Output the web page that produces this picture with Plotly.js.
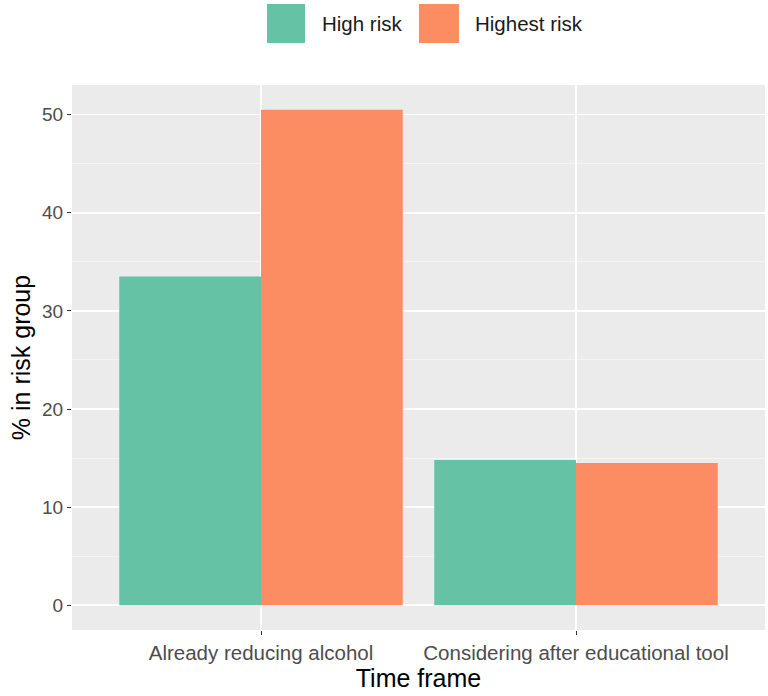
<!DOCTYPE html>
<html>
<head>
<meta charset="utf-8">
<script src="https://cdn.plot.ly/plotly-3.0.1.min.js"></script>
<style>
  html, body { margin: 0; padding: 0; background: #fff; }
  #chart { width: 768px; height: 696px; }
</style>
</head>
<body>
<div id="chart"></div>
<script>
// --- Data ---
const categories = ['Already reducing alcohol', 'Considering after educational tool'];
const seriesNames = ['High risk', 'Highest risk'];
const highRisk = [33.5, 14.8];
const highestRisk = [50.5, 14.5];
const seriesColors = ['#66C2A5', '#FC8D62'];
const yTicks = [0, 10, 20, 30, 40, 50];

const FONT = 'Liberation Sans, Arial, sans-serif';

const traces = [highRisk, highestRisk].map((vals, i) => ({
  type: 'bar',
  name: seriesNames[i],
  x: categories,
  y: vals,
  marker: { color: seriesColors[i], line: { width: 0 } },
  hoverinfo: 'x+y+name',
}));

// --- ggplot-like legend on top (big square keys), paper = plot area ---
const keyX = [[0.2814, 0.3362], [0.5007, 0.5584]];
const textX = [0.3579, 0.5786];
const legendShapes = seriesColors.map((c, i) => ({
  type: 'rect', xref: 'paper', yref: 'paper',
  x0: keyX[i][0], x1: keyX[i][1], y0: 1.077, y1: 1.1486,
  fillcolor: c, line: { width: 0 },
}));
const legendLabels = seriesNames.map((n, i) => ({
  xref: 'paper', yref: 'paper', x: textX[i], y: 1.112,
  xanchor: 'left', yanchor: 'middle', showarrow: false,
  text: n, font: { family: FONT, size: 20.5, color: '#1a1a1a' },
}));

const layout = {
  width: 768,
  height: 696,
  paper_bgcolor: '#ffffff',
  plot_bgcolor: '#EBEBEB',
  font: { family: FONT, color: '#4D4D4D' },
  margin: { t: 85, r: 3, b: 66, l: 72 },
  barmode: 'group',
  bargap: 0.1,
  bargroupgap: 0,
  showlegend: false,
  xaxis: {
    type: 'category',
    range: [-0.6, 1.6],
    showgrid: true,
    gridcolor: '#ffffff',
    gridwidth: 1.5,
    zeroline: false,
    ticks: 'outside',
    ticklen: 4,
    tickwidth: 1,
    tickcolor: '#333333',
    tickfont: { family: FONT, size: 20.5, color: '#4D4D4D' },
    title: { text: 'Time frame', font: { family: FONT, size: 25, color: '#000' }, standoff: 0 },
  },
  yaxis: {
    range: [-2.525, 53.025],
    tickvals: yTicks,
    ticktext: yTicks.map(String),
    showgrid: true,
    gridcolor: '#ffffff',
    gridwidth: 1.5,
    minor: { dtick: 5, showgrid: true, gridcolor: '#F7F7F7', gridwidth: 0.8, tick0: 0 },
    zeroline: false,
    ticks: 'outside',
    ticklen: 4,
    tickwidth: 1,
    tickcolor: '#333333',
    tickfont: { family: FONT, size: 19, color: '#4D4D4D' },
    title: { text: '% in risk group', font: { family: FONT, size: 25, color: '#000' }, standoff: 4 },
  },
  shapes: legendShapes,
  annotations: legendLabels,
};

Plotly.newPlot('chart', traces, layout, { displayModeBar: false, staticPlot: true });
</script>
</body>
</html>
